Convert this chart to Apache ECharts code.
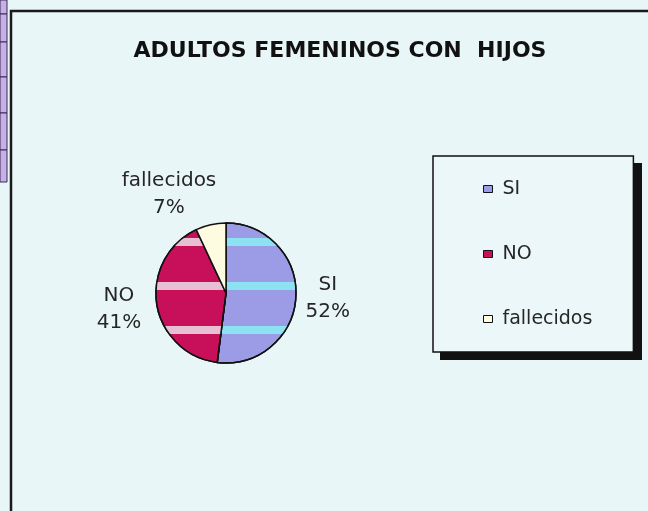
<!DOCTYPE html>
<html><head><meta charset="utf-8">
<script src="https://cdn.jsdelivr.net/npm/echarts@6/dist/echarts.min.js"></script>
<style>html,body{margin:0;padding:0;background:#e9f6f8;}#c{width:648px;height:511px;}</style>
</head><body><div id="c"></div>
<script>
const categories = ['SI', 'NO', 'fallecidos'];
const values = [52, 41, 7];
const colors = ['#9c9ce6', '#c8105a', '#fdfbe0'];
const stripeColors = ['#8ce2f0', '#e6c0d2', null];
const titleText = 'ADULTOS FEMENINOS CON  HIJOS';

// label nudges (layout only), per slice index
const labelNudge = [[15, 0], [-21, 4], [-31, -23]];

const chart = echarts.init(document.getElementById('c'), null, {renderer: 'canvas'});
const stripDividers = [0, 14, 42, 77, 113, 150, 182];
const strip = [];
for (let i = 0; i < stripDividers.length - 1; i++) {
  strip.push({type: 'rect', shape: {x: 0, y: stripDividers[i], width: 7, height: stripDividers[i+1] - stripDividers[i]},
    style: {fill: '#c6b0e6', stroke: '#3a2a5a', lineWidth: 1}});
}
chart.setOption({
  backgroundColor: '#e9f6f8',
  title: {
    text: titleText, left: 335, top: 35, textAlign: 'center',
    textStyle: {fontFamily: 'DejaVu Sans', fontWeight: 'bold', fontSize: 22, color: '#111'}
  },
  graphic: strip.concat([
    {type: 'polyline', shape: {points: [[11, 511], [11, 11], [648, 11]]}, style: {stroke: '#1a1a1a', lineWidth: 2.5, fill: null}},
    {type: 'rect', shape: {x: 440, y: 163, width: 202, height: 197}, style: {fill: '#111'}}
  ]),
  legend: {
    orient: 'vertical', left: 433, top: 156,
    padding: [23, 41, 23, 50], itemGap: 45,
    itemWidth: 9, itemHeight: 7, icon: 'rect',
    backgroundColor: '#ebf7f9', borderColor: '#111', borderWidth: 1.5,
    textStyle: {fontFamily: 'DejaVu Sans', fontSize: 19, lineHeight: 20, color: '#262626', padding: [0, 0, 0, 5]},
    itemStyle: {borderColor: '#111', borderWidth: 1, decal: 'none'},
    data: categories
  },
  series: [{
    type: 'pie', center: [226, 293], radius: 70, startAngle: 90, clockwise: true,
    animation: false, silent: true,
    itemStyle: {borderColor: '#111', borderWidth: 1.5},
    label: {
      show: true, position: 'outside', formatter: '{b}\n{d}%', align: 'center',
      fontFamily: 'DejaVu Sans', fontSize: 20, color: '#262626', lineHeight: 27
    },
    labelLine: {show: false, length: 8, length2: 4},
    labelLayout: function (p) {
      const n = labelNudge[p.dataIndex];
      return {align: 'center', dx: n[0], dy: n[1]};
    },
    data: categories.map((c, i) => ({
      name: c, value: values[i],
      itemStyle: {
        color: colors[i],
        decal: stripeColors[i] ? {symbol: 'rect', dashArrayX: [1, 0], dashArrayY: [0, 18, 8, 18], color: stripeColors[i], symbolSize: 1} : undefined
      }
    }))
  }]
});
</script></body></html>
